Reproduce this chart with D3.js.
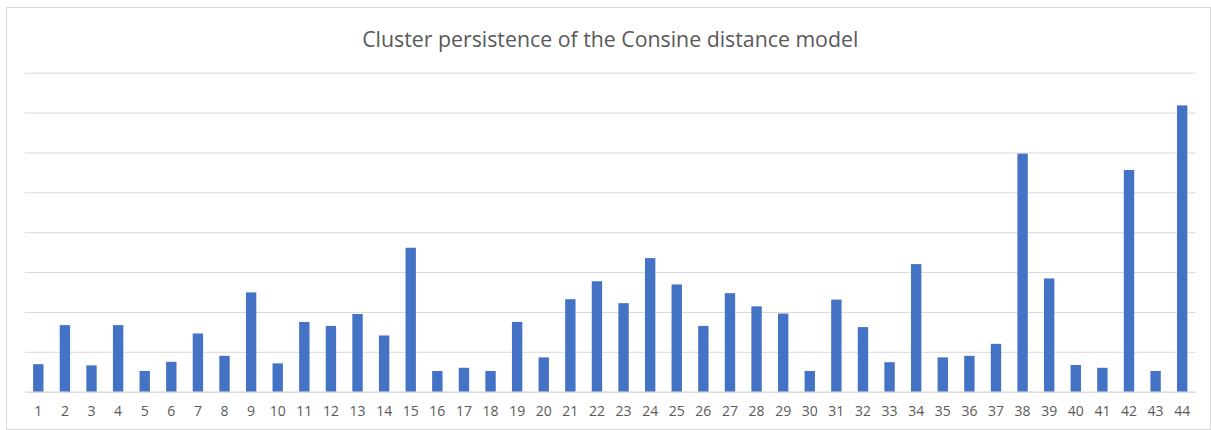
<!DOCTYPE html>
<html>
<head>
<meta charset="utf-8">
<script src="https://cdn.jsdelivr.net/npm/d3@7"></script>
<style>
  body { margin: 0; background: #fff; }
</style>
</head>
<body>
<div id="chart"></div>
<script>
// cluster ids and persistence values (y axis unlabeled in original, 8 gridline steps of 10)
var clusters = d3.range(1, 45).map(String);
var persistence = [6.9, 16.7, 6.6, 16.7, 5.2, 7.5, 14.6, 9.0, 24.9, 7.1,
                   17.5, 16.5, 19.5, 14.1, 36.1, 5.2, 6.0, 5.2, 17.5, 8.6,
                   23.2, 27.7, 22.2, 33.5, 26.9, 16.5, 24.7, 21.4, 19.6, 5.2,
                   23.1, 16.2, 7.4, 32.0, 8.6, 9.0, 12.0, 59.7, 28.4, 6.7,
                   6.0, 55.6, 5.2, 71.8];
var gridTicks = [0, 10, 20, 30, 40, 50, 60, 70, 80];
var title = "Cluster persistence of the Consine distance model";

var W = 1211, H = 430;
var margin = {top: 72.7, right: 15.5, bottom: 38.3, left: 25};
var width = W - margin.left - margin.right;
var height = H - margin.top - margin.bottom;

var svg = d3.select("#chart")
  .append("svg")
    .attr("width", W)
    .attr("height", H);

// outer chart border
svg.append("rect")
  .attr("x", 6.5).attr("y", 7.5)
  .attr("width", W - 7).attr("height", H - 8)
  .attr("fill", "#fff")
  .attr("stroke", "#d9d9d9")
  .attr("stroke-width", 1);

svg.append("text")
  .attr("x", margin.left + width / 2)
  .attr("y", 46.5)
  .attr("text-anchor", "middle")
  .attr("font-family", "'Open Sans', sans-serif")
  .attr("font-size", 21.3)
  .attr("fill", "#595959")
  .text(title);

var g = svg.append("g")
  .attr("transform", "translate(" + margin.left + "," + margin.top + ")");

var x = d3.scaleBand()
  .domain(clusters)
  .range([0, width])
  .paddingInner(0.61)
  .paddingOuter(0.305);

var y = d3.scaleLinear()
  .domain([0, 80])
  .range([height, 0]);

// gridlines
g.append("g")
  .call(d3.axisLeft(y).tickValues(gridTicks).tickSize(-width).tickFormat(""))
  .call(function(s) {
    s.select(".domain").remove();
    s.selectAll(".tick line").attr("stroke", "#d9d9d9").attr("stroke-width", 1);
  });

g.selectAll(".bar")
  .data(persistence)
  .enter().append("rect")
    .attr("class", "bar")
    .attr("x", function(d, i) { return x(clusters[i]); })
    .attr("y", function(d) { return y(d); })
    .attr("width", x.bandwidth())
    .attr("height", function(d) { return height - y(d); })
    .attr("fill", "#4472c4");

// category axis
g.append("g")
  .attr("transform", "translate(0," + height + ")")
  .call(d3.axisBottom(x).tickSize(0).tickPadding(14))
  .call(function(s) {
    s.select(".domain").attr("stroke", "#d9d9d9");
    s.selectAll("text")
      .attr("font-family", "'Open Sans', sans-serif")
      .attr("font-size", 14)
      .attr("fill", "#595959");
  });
</script>
</body>
</html>
